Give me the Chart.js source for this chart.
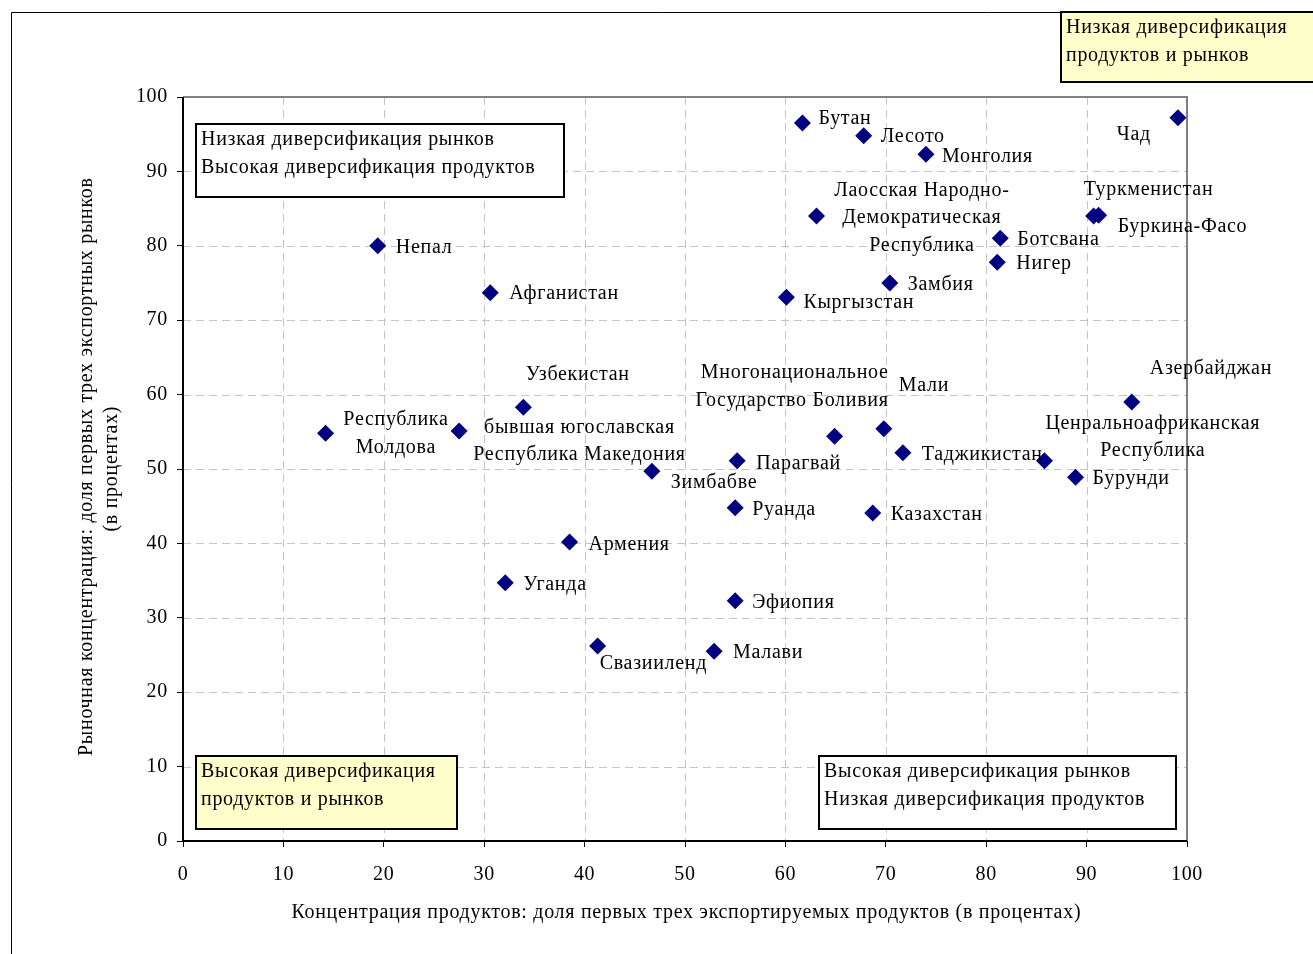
<!DOCTYPE html>
<html>
<head>
<meta charset="utf-8">
<script src="https://cdn.jsdelivr.net/npm/chart.js@4.4.0/dist/chart.umd.min.js"></script>
<style>
  html, body { margin: 0; padding: 0; background: #fff; }
  #wrap { width: 1313px; height: 954px; position: relative; }
</style>
</head>
<body>
<div id="wrap"><canvas id="c" width="1313" height="954"></canvas></div>
<script>
// ---- Data ----
const countries = [
  'Непал', 'Афганистан', 'Бутан', 'Лесото', 'Монголия', 'Чад', 'Туркменистан', 'Буркина-Фасо',
  'Лаосская Народно-Демократическая Республика', 'Ботсвана', 'Нигер', 'Замбия', 'Кыргызстан',
  'Азербайджан', 'Узбекистан', 'Республика Молдова', 'бывшая югославская Республика Македония',
  'Зимбабве', 'Парагвай', 'Многонациональное Государство Боливия', 'Мали', 'Таджикистан',
  'Ценральноафриканская Республика', 'Бурунди', 'Руанда', 'Казахстан', 'Армения', 'Уганда',
  'Эфиопия', 'Свазииленд', 'Малави'
];
const productConcentration = [
  19.4, 30.6, 61.7, 67.8, 74.0, 99.1, 90.7, 91.2,
  63.1, 81.4, 81.1, 70.4, 60.1,
  94.5, 33.9, 14.2, 27.5,
  46.7, 55.2, 64.9, 69.8, 71.7,
  85.8, 88.9, 55.0, 68.7, 38.5, 32.1,
  55.0, 41.3, 52.9
];
const marketConcentration = [
  80.0, 73.7, 96.5, 94.8, 92.3, 97.2, 84.0, 84.1,
  84.0, 81.0, 77.8, 75.0, 73.1,
  59.0, 58.3, 54.8, 55.1,
  49.7, 51.1, 54.4, 55.4, 52.2,
  51.1, 48.9, 44.8, 44.1, 40.2, 34.7,
  32.3, 26.2, 25.5
];
const tickValues = [0, 10, 20, 30, 40, 50, 60, 70, 80, 90, 100];
const xTitle = 'Концентрация продуктов: доля первых трех экспортируемых продуктов (в процентах)';
const yTitleLines = ['Рыночная концентрация: доля первых трех экспортных рынков', '(в процентах)'];
const quadrantTexts = {
  topLeft: ['Низкая диверсификация рынков', 'Высокая диверсификация продуктов'],
  topRight: ['Низкая диверсификация', 'продуктов и рынков'],
  bottomLeft: ['Высокая диверсификация', 'продуктов и рынков'],
  bottomRight: ['Высокая диверсификация рынков', 'Низкая диверсификация продуктов']
};

// ---- Label layout (pixel offsets from the marker; lines, align) ----
const labelLayout = [
  {lines:['Непал'], dx:18, dy:0, a:'left'},
  {lines:['Афганистан'], dx:19, dy:0, a:'left'},
  {lines:['Бутан'], dx:16, dy:-6, a:'left'},
  {lines:['Лесото'], dx:17, dy:0, a:'left'},
  {lines:['Монголия'], dx:16, dy:1, a:'left'},
  {lines:['Чад'], dx:-27, dy:15, a:'right'},
  {lines:['Туркменистан'], dx:-10, dy:-28, a:'left'},
  {lines:['Буркина-Фасо'], dx:19, dy:10, a:'left'},
  {lines:['Лаосская Народно-','Демократическая','Республика'], dx:105, dy:-27, a:'center'},
  {lines:['Ботсвана'], dx:17, dy:0, a:'left'},
  {lines:['Нигер'], dx:19, dy:0, a:'left'},
  {lines:['Замбия'], dx:18, dy:0, a:'left'},
  {lines:['Кыргызстан'], dx:17, dy:4, a:'left'},
  {lines:['Азербайджан'], dx:18, dy:-35, a:'left'},
  {lines:['Узбекистан'], dx:54, dy:-34, a:'center'},
  {lines:['Республика','Молдова'], dx:70, dy:-15, a:'center'},
  {lines:['бывшая югославская','Республика Македония'], dx:120, dy:-5, a:'center'},
  {lines:['Зимбабве'], dx:19, dy:10, a:'left'},
  {lines:['Парагвай'], dx:19, dy:1, a:'left'},
  {lines:['Многонациональное','Государство Боливия'], dx:54, dy:-65, a:'right'},
  {lines:['Мали'], dx:15, dy:-45, a:'left'},
  {lines:['Таджикистан'], dx:19, dy:1, a:'left'},
  {lines:['Ценральноафриканская','Республика'], dx:108, dy:-39, a:'center'},
  {lines:['Бурунди'], dx:17, dy:0, a:'left'},
  {lines:['Руанда'], dx:17, dy:1, a:'left'},
  {lines:['Казахстан'], dx:18, dy:0, a:'left'},
  {lines:['Армения'], dx:19, dy:1, a:'left'},
  {lines:['Уганда'], dx:18, dy:0, a:'left'},
  {lines:['Эфиопия'], dx:17, dy:1, a:'left'},
  {lines:['Свазииленд'], dx:2, dy:16, a:'left'},
  {lines:['Малави'], dx:19, dy:0, a:'left'}
];
const LINE_H = 27.5;
const TEXT_SHIFT = 1.5;
const FAMILY = '"Liberation Serif", "Times New Roman", serif';
const FONT = '20px ' + FAMILY;
const SPACING = '0.7px';

const boxes = [
  {x:196, y:124, w:368, h:73, fill:'#ffffff', lines: quadrantTexts.topLeft},
  {x:1061, y:12, w:260, h:70, fill:'#ffffcc', lines: quadrantTexts.topRight},
  {x:196, y:756, w:261, h:73, fill:'#ffffcc', lines: quadrantTexts.bottomLeft},
  {x:819, y:756, w:357, h:73, fill:'#ffffff', lines: quadrantTexts.bottomRight}
];

const points = productConcentration.map((x, i) => ({x, y: marketConcentration[i]}));

function spacedCenter(ctx, t, x, y) {
  ctx.fillText(t, x + parseFloat(SPACING) / 2, y);
}

const decor = {
  id: 'decor',
  beforeDraw(chart) {
    const ctx = chart.ctx;
    ctx.letterSpacing = SPACING;
    ctx.save();
    ctx.fillStyle = '#fff';
    ctx.fillRect(0, 0, chart.width, chart.height);
    ctx.strokeStyle = '#000';
    ctx.lineWidth = 1;
    ctx.beginPath();
    ctx.moveTo(11.5, 954); ctx.lineTo(11.5, 12.5); ctx.lineTo(1313, 12.5);
    ctx.stroke();
    ctx.restore();
  },
  beforeDatasetsDraw(chart) {
    const ctx = chart.ctx, xs = chart.scales.x, ys = chart.scales.y, ca = chart.chartArea;
    ctx.save();
    ctx.letterSpacing = SPACING;
    ctx.strokeStyle = '#c4c4c4';
    ctx.lineWidth = 1;
    ctx.setLineDash([8, 5]);
    tickValues.forEach(v => {
      if (v === 0 || v === 100) return;
      const px = Math.round(xs.getPixelForValue(v)) + 0.5;
      ctx.beginPath(); ctx.moveTo(px, ca.top); ctx.lineTo(px, ca.bottom); ctx.stroke();
      const py = Math.round(ys.getPixelForValue(v)) + 0.5;
      ctx.beginPath(); ctx.moveTo(ca.left, py); ctx.lineTo(ca.right, py); ctx.stroke();
    });
    ctx.setLineDash([]);
    ctx.strokeStyle = '#808080';
    ctx.lineWidth = 2;
    ctx.beginPath();
    ctx.moveTo(ca.left, ca.top); ctx.lineTo(ca.right, ca.top); ctx.lineTo(ca.right, ca.bottom);
    ctx.stroke();
    ctx.strokeStyle = '#000';
    ctx.lineWidth = 2;
    ctx.beginPath();
    ctx.moveTo(ca.left, ca.top); ctx.lineTo(ca.left, ca.bottom); ctx.lineTo(ca.right, ca.bottom);
    ctx.stroke();
    boxes.forEach(b => {
      ctx.fillStyle = b.fill;
      ctx.fillRect(b.x, b.y, b.w, b.h);
      ctx.strokeStyle = '#000';
      ctx.lineWidth = 2;
      ctx.strokeRect(b.x, b.y, b.w, b.h);
      ctx.fillStyle = '#000';
      ctx.font = FONT;
      ctx.textAlign = 'left';
      ctx.textBaseline = 'middle';
      b.lines.forEach((t, i) => ctx.fillText(t, b.x + 5, b.y + 15.5 + i * 28));
    });
    ctx.fillStyle = '#000';
    ctx.font = FONT;
    ctx.textAlign = 'center';
    ctx.textBaseline = 'middle';
    spacedCenter(ctx, xTitle, 686, 913);
    ctx.save();
    ctx.translate(87, 467);
    ctx.rotate(-Math.PI / 2);
    spacedCenter(ctx, yTitleLines[0], 0, 0);
    spacedCenter(ctx, yTitleLines[1], -2, 25);
    ctx.restore();
    ctx.restore();
  },
  afterDatasetsDraw(chart) {
    const ctx = chart.ctx;
    const meta = chart.getDatasetMeta(0);
    ctx.save();
    ctx.letterSpacing = SPACING;
    ctx.fillStyle = '#000';
    ctx.font = FONT;
    ctx.textBaseline = 'middle';
    meta.data.forEach((el, i) => {
      const L = labelLayout[i];
      ctx.textAlign = L.a;
      L.lines.forEach((t, j) => {
        const y = el.y + L.dy + j * LINE_H + TEXT_SHIFT;
        if (L.a === 'center') spacedCenter(ctx, t, el.x + L.dx, y);
        else ctx.fillText(t, el.x + L.dx, y);
      });
    });
    ctx.restore();
  }
};

new Chart(document.getElementById('c'), {
  type: 'scatter',
  data: {
    datasets: [{
      label: 'Страны',
      data: points,
      pointStyle: 'rectRot',
      pointRadius: 8.5,
      pointHoverRadius: 8.5,
      backgroundColor: '#000080',
      borderColor: '#000080',
      borderWidth: 0
    }]
  },
  options: {
    responsive: false,
    animation: false,
    events: [],
    layout: { padding: { left: 0, top: 97, right: 126, bottom: 0 } },
    plugins: { legend: { display: false }, tooltip: { enabled: false } },
    scales: {
      x: {
        type: 'linear', min: 0, max: 100,
        afterFit(s) { s.height = 113; },
        afterBuildTicks(s) { s.ticks = tickValues.map(v => ({value: v})); },
        grid: { display: true, drawOnChartArea: false, drawTicks: true, tickLength: 6, tickColor: '#000', tickWidth: 1 },
        border: { display: false },
        ticks: { color: '#000', font: { family: FAMILY, size: 20 }, padding: 16, maxRotation: 0 }
      },
      y: {
        type: 'linear', min: 0, max: 100,
        afterFit(s) { s.width = 183; },
        afterBuildTicks(s) { s.ticks = tickValues.map(v => ({value: v})); },
        grid: { display: true, drawOnChartArea: false, drawTicks: true, tickLength: 6, tickColor: '#000', tickWidth: 1 },
        border: { display: false },
        ticks: { color: '#000', font: { family: FAMILY, size: 20 }, padding: 9 }
      }
    }
  },
  plugins: [decor]
});
</script>
</body>
</html>
